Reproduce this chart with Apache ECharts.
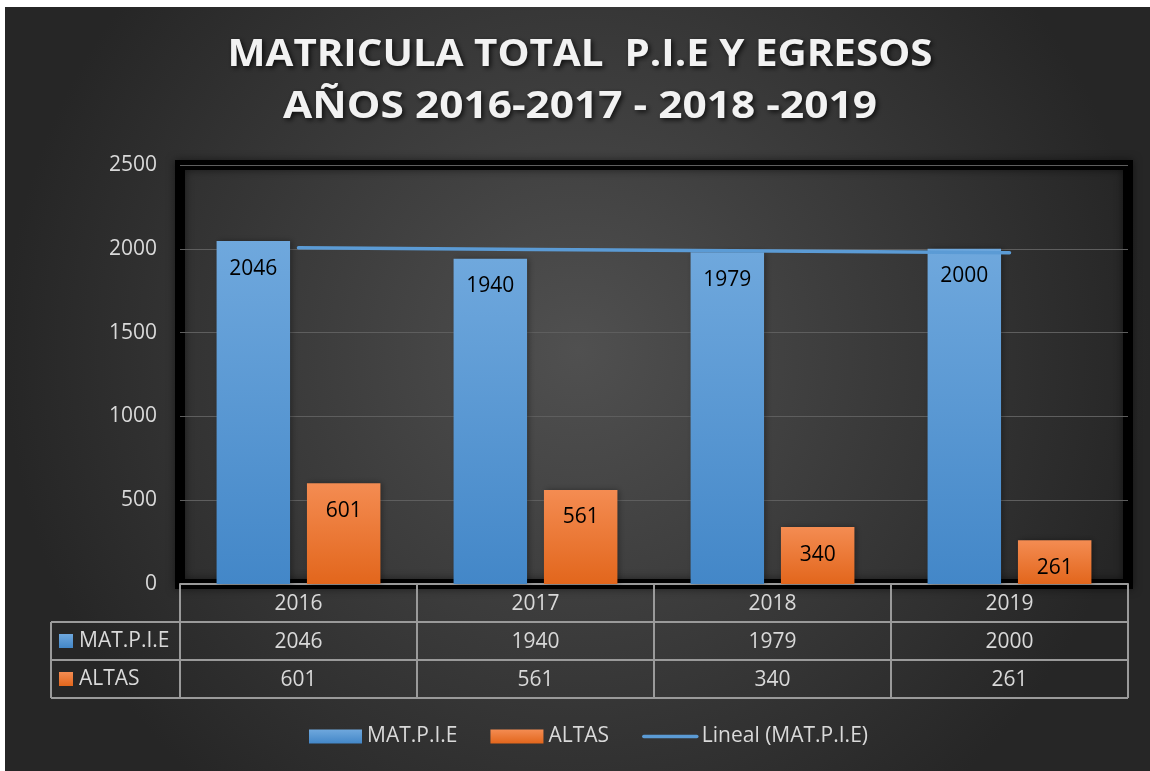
<!DOCTYPE html>
<html>
<head>
<meta charset="utf-8">
<script src="https://cdn.jsdelivr.net/npm/echarts@6/dist/echarts.min.js"></script>
<style>
html,body{margin:0;padding:0;background:#fff;}
#c{width:1150px;height:771px;}
</style>
</head>
<body>
<div id="c"></div>
<script>
// ---- data ----
var years = ['2016', '2017', '2018', '2019'];
var matPie = [2046, 1940, 1979, 2000];
var altas = [601, 561, 340, 261];
var seriesNames = ['MAT.P.I.E', 'ALTAS', 'Lineal (MAT.P.I.E)'];
var yTicks = [0, 500, 1000, 1500, 2000, 2500];
var titleLines = ['MATRICULA TOTAL  P.I.E Y EGRESOS', 'AÑOS 2016-2017 - 2018 -2019'];

// linear trendline (least squares) of MAT.P.I.E, as Excel's "Lineal"
function trend(vals) {
  var n = vals.length, sx = 0, sy = 0, sxy = 0, sxx = 0;
  for (var i = 0; i < n; i++) { var x = i + 1; sx += x; sy += vals[i]; sxy += x * vals[i]; sxx += x * x; }
  var b = (n * sxy - sx * sy) / (n * sxx - sx * sx);
  var a = (sy - b * sx) / n;
  return vals.map(function (v, i) { return +(a + b * (i + 1)).toFixed(2); });
}
var trendVals = trend(matPie);

// ---- layout constants ----
var FONT = 'Open Sans';
var FS = 21;
var TXT = '#d9d9d9';
var GRID = {left: 180, right: 22, top: 165, bottom: 187};
var W = 1150, H = 771;
var axisY = H - GRID.bottom; // 584
var rowH = 38;
var tableLeft = 51;
var tableRight = W - GRID.right;
var lineCol = '#9a9a9a';

// title geometry
var TITLE_FONT = 'bold 38px "Open Sans"';
var titleCX = 580;
var titleY = [55, 107];
var titleW = [705, 594];
var mctx = document.createElement('canvas').getContext('2d');
mctx.font = TITLE_FONT;
var titleScale = titleLines.map(function (t, i) { return titleW[i] / mctx.measureText(t).width; });

function vgrad(top, bottom) {
  return new echarts.graphic.LinearGradient(0, 0, 0, 1, [{offset: 0, color: top}, {offset: 1, color: bottom}]);
}
var blueG = vgrad('#6fa8dd', '#4387c8');
var orangeG = vgrad('#f48c52', '#e2661c');

var chart = echarts.init(document.getElementById('c'), null, {renderer: 'canvas'});

function tableAxis(idx, formatter) {
  return {
    type: 'category', data: years, position: 'bottom', gridIndex: 0,
    offset: idx * rowH,
    axisLine: {show: true, lineStyle: {color: lineCol, width: 2}},
    axisTick: {show: true, length: rowH, interval: 0, lineStyle: {color: lineCol, width: 2}},
    axisLabel: {show: true, interval: 0, margin: 10, color: TXT, fontSize: FS, fontFamily: FONT, formatter: formatter},
    splitLine: {show: false}
  };
}

var graphics = [
  {type: 'rect', z: -10, silent: true, shape: {x: 5, y: 7, width: W - 5, height: H - 7},
   style: {fill: new echarts.graphic.RadialGradient(0.5, 0.45, 0.75, [{offset: 0, color: '#505050'}, {offset: 1, color: '#262626'}])}},
  // left column of data table
  {type: 'line', shape: {x1: tableLeft, y1: axisY + rowH, x2: GRID.left, y2: axisY + rowH}, style: {stroke: lineCol, lineWidth: 2}},
  {type: 'line', shape: {x1: tableLeft, y1: axisY + 2 * rowH, x2: GRID.left, y2: axisY + 2 * rowH}, style: {stroke: lineCol, lineWidth: 2}},
  {type: 'line', shape: {x1: tableLeft, y1: axisY + 3 * rowH, x2: tableRight, y2: axisY + 3 * rowH}, style: {stroke: lineCol, lineWidth: 2}},
  {type: 'line', shape: {x1: tableLeft, y1: axisY + rowH, x2: tableLeft, y2: axisY + 3 * rowH}, style: {stroke: lineCol, lineWidth: 2}},
  {type: 'rect', shape: {x: 59, y: axisY + rowH + 12, width: 14, height: 14}, style: {fill: blueG}},
  {type: 'rect', shape: {x: 59, y: axisY + 2 * rowH + 12, width: 14, height: 14}, style: {fill: orangeG}},
  {type: 'text', x: 79, y: axisY + rowH + 19, style: {text: seriesNames[0], fill: TXT, fontSize: FS, fontFamily: FONT, verticalAlign: 'middle'}},
  {type: 'text', x: 79, y: axisY + 2 * rowH + 19, style: {text: seriesNames[1], fill: TXT, fontSize: FS, fontFamily: FONT, verticalAlign: 'middle'}}
];
titleLines.forEach(function (t, i) {
  graphics.push({type: 'text', x: titleCX, y: titleY[i], scaleX: titleScale[i],
    style: {text: t, fill: '#f2f2f2', font: TITLE_FONT, textAlign: 'center', verticalAlign: 'middle',
      textShadowColor: 'rgba(0,0,0,0.75)', textShadowBlur: 5, textShadowOffsetX: 2, textShadowOffsetY: 2}});
});

var option = {
  animation: false,
  backgroundColor: 'transparent',
  legend: {
    top: 721, left: 304,
    itemWidth: 53, itemHeight: 14, itemGap: 33,
    textStyle: {color: TXT, fontSize: FS, fontFamily: FONT},
    data: [
      {name: seriesNames[0], icon: 'rect'},
      {name: seriesNames[1], icon: 'rect'},
      {name: seriesNames[2], itemStyle: {opacity: 0}, lineStyle: {color: '#5b9bd5', width: 3.5}}
    ]
  },
  grid: {left: GRID.left, right: GRID.right, top: GRID.top, bottom: GRID.bottom, show: true,
    borderColor: '#000', borderWidth: 10, backgroundColor: 'transparent',
    shadowColor: 'rgba(0,0,0,0.5)', shadowBlur: 8},
  xAxis: [
    tableAxis(0, function (v) { return v; }),
    tableAxis(1, function (v, i) { return String(matPie[i]); }),
    tableAxis(2, function (v, i) { return String(altas[i]); })
  ],
  yAxis: {
    type: 'value', min: yTicks[0], max: yTicks[yTicks.length - 1], interval: yTicks[1] - yTicks[0],
    axisLine: {show: false}, axisTick: {show: false},
    axisLabel: {color: TXT, fontSize: FS, fontFamily: FONT, margin: 23, formatter: function (v) { return String(v); }},
    splitLine: {lineStyle: {color: '#5e5e5e', width: 1}}
  },
  series: [
    {name: seriesNames[0], type: 'bar', xAxisIndex: 0, data: matPie, barWidth: '31%', barGap: '23%',
     itemStyle: {color: blueG, shadowColor: 'rgba(0,0,0,0.35)', shadowBlur: 6, shadowOffsetX: 2},
     label: {show: true, position: 'insideTop', distance: 17, color: '#000', fontSize: FS, fontFamily: FONT}},
    {name: seriesNames[1], type: 'bar', xAxisIndex: 0, data: altas, barWidth: '31%',
     itemStyle: {color: orangeG, shadowColor: 'rgba(0,0,0,0.35)', shadowBlur: 6, shadowOffsetX: 2},
     label: {show: true, position: 'insideTop', distance: 17, color: '#000', fontSize: FS, fontFamily: FONT}},
    {name: seriesNames[2], type: 'line', xAxisIndex: 0, data: trendVals, symbol: 'none', z: 5,
     lineStyle: {color: '#5b9bd5', width: 3.5, cap: 'round'}, itemStyle: {color: '#5b9bd5'}}
  ],
  graphic: graphics
};
chart.setOption(option);
</script>
</body>
</html>
